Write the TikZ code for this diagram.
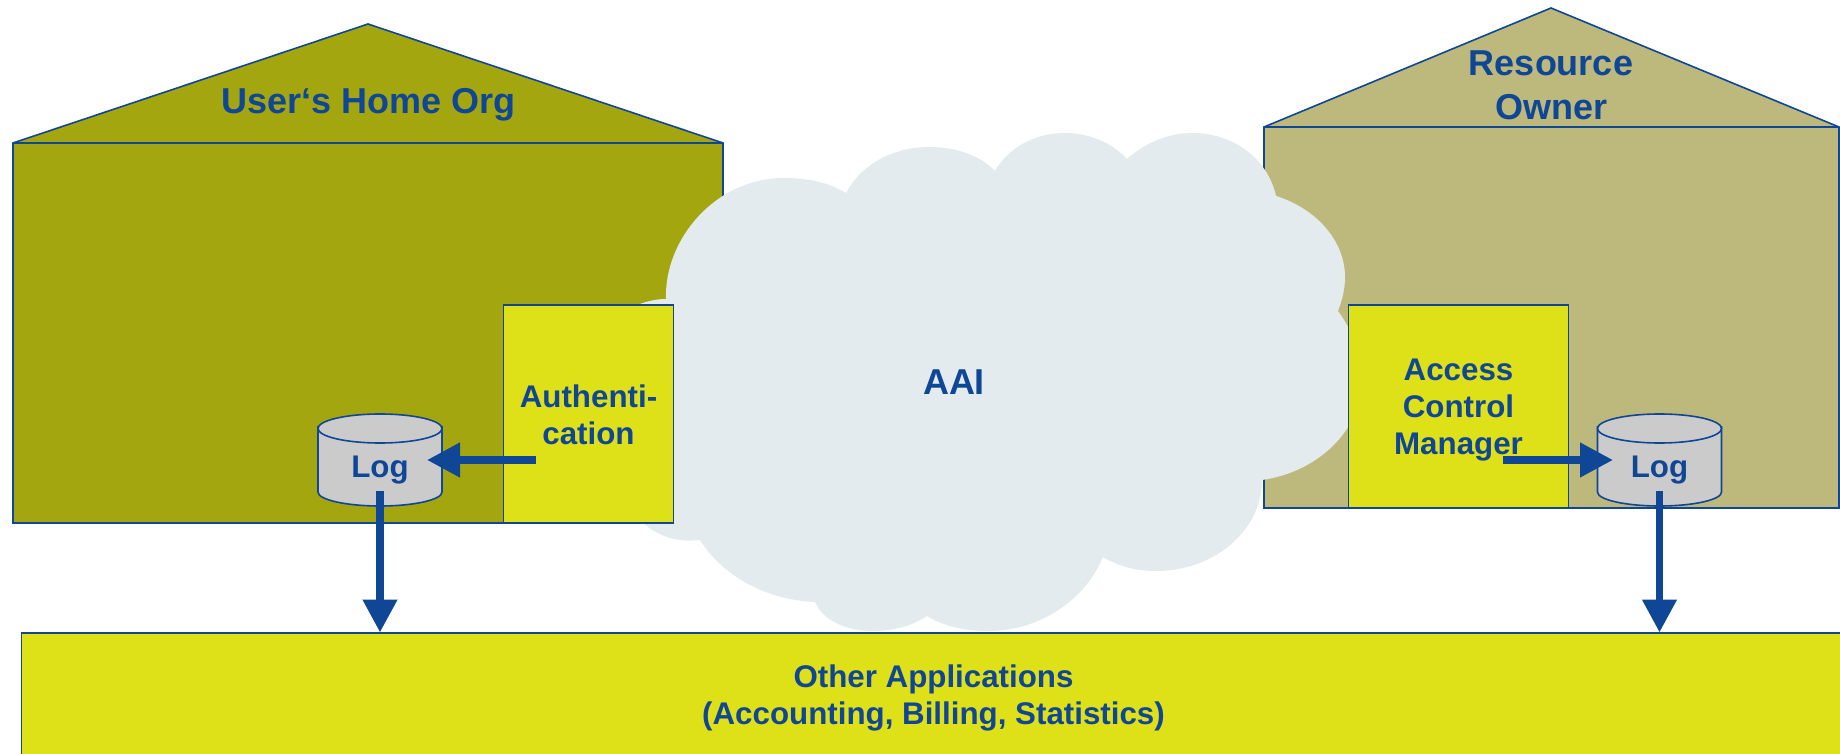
\documentclass[tikz,border=0pt]{standalone}
\usepackage{fontspec}
\setmainfont{Liberation Sans}
\usetikzlibrary{arrows.meta}
\definecolor{olivehouse}{HTML}{A4A610}
\definecolor{khakihouse}{HTML}{BDB87B}
\definecolor{boxyellow}{HTML}{DEE018}
\definecolor{cloudgrey}{HTML}{E3EBEF}
\definecolor{aaiblue}{HTML}{0F4696}
\definecolor{loggrey}{HTML}{CBCBCB}
\tikzset{
  x=1pt,y=-1pt,
  edge/.style={draw=aaiblue,line width=1.6pt,line join=miter},
  boxnode/.style={edge,fill=boxyellow,inner sep=0pt,anchor=north west},
  big/.style={text=aaiblue,font=\bfseries\fontsize{36}{44}\selectfont,align=center,inner sep=0pt},
  small/.style={text=aaiblue,font=\bfseries\fontsize{31.3}{37}\selectfont,align=center,inner sep=0pt},
  flow/.style={draw=aaiblue,line width=7.5pt,-{Triangle[length=33pt,width=33pt]}},
  logbody/.style={edge,fill=loggrey},
}
\newcommand{\logdrum}[1]{%
  \path[logbody] (#1-62,427) -- (#1-62,492) arc[start angle=180,end angle=360,x radius=62,y radius=-14] -- (#1+62,427) -- cycle;
  \path[logbody] (#1,428.5) ellipse[x radius=62,y radius=14.5];
}
\begin{document}
\begin{tikzpicture}
\clip (0,0) rectangle (1840,754);
\fill[white] (0,0) rectangle (1840,754);
% houses
\path[edge,fill=olivehouse] (13,143) -- (368,24) -- (723,143) -- (723,523) -- (13,523) -- cycle;
\draw[edge] (13,143) -- (723,143);
\path[edge,fill=khakihouse] (1264,127) -- (1551,8) -- (1839,127) -- (1839,508) -- (1264,508) -- cycle;
\draw[edge] (1264,127) -- (1839,127);
% cloud
\fill[cloudgrey] (846,193)
 .. controls (862,163) and (895,147) .. (929,147)
 .. controls (955,147) and (980,155) .. (995,171)
 .. controls (1008,148) and (1035,133) .. (1064,133)
 .. controls (1090,133) and (1112,143) .. (1127,159)
 .. controls (1145,143) and (1168,133) .. (1192,133)
 .. controls (1235,133) and (1268,160) .. (1276,196)
 .. controls (1315,208) and (1345,240) .. (1345,277)
 .. controls (1345,290) and (1342,300) .. (1338,311)
 .. controls (1355,335) and (1362,355) .. (1362,380)
 .. controls (1362,430) and (1318,472) .. (1262,480)
 .. controls (1262,530) and (1215,571) .. (1156,571)
 .. controls (1135,571) and (1118,566) .. (1103,557)
 .. controls (1085,600) and (1040,631) .. (988,631)
 .. controls (965,631) and (943,626) .. (927,616)
 .. controls (912,626) and (893,631) .. (873,631)
 .. controls (845,631) and (823,620) .. (815,602)
 .. controls (765,600) and (722,575) .. (700,540)
 .. controls (675,543) and (655,535) .. (640,520)
 -- (640,304)
 .. controls (648,301) and (657,299) .. (666,299)
 .. controls (664,240) and (715,178) .. (784,178)
 .. controls (808,178) and (830,183) .. (846,193) -- cycle;
% boxes
\node[boxnode,minimum width=170pt,minimum height=218pt] (auth) at (502.5,304.2) {};
\node[boxnode,minimum width=220pt,minimum height=203pt] (acm) at (1347.5,304.2) {};
\node[boxnode,minimum width=1840pt,minimum height=140pt] (other) at (20.5,632.2) {};
% logs
\logdrum{380}
\logdrum{1659.5}
% labels
\node[big] (home) at (368.5,105) {User‘s Home Org};
\node[big] (owner) at (1551,85.5) {Resource\\Owner};
\node[big] (aai) at (954,382.5) {AAI};
\node[small] (authtext) at (588.5,415) {Authenti-\\cation};
\node[small] (acmtext) at (1458.5,410) {Access\\Control\\Manager};
\node[small] (otext) at (933.5,698) {Other Applications\\(Accounting, Billing, Statistics)};
\node[small] (logl) at (380,470) {Log};
\node[small] (logr) at (1659.5,470) {Log};
% connectors
\coordinate (authout) at (536,460);
\coordinate (loglin) at (427,460);
\coordinate (acmout) at (1503,460);
\coordinate (logrin) at (1613,460);
\coordinate (logldown) at (380,491);
\coordinate (otherl) at (380,632.5);
\coordinate (logrdown) at (1659.5,491);
\coordinate (otherr) at (1659.5,632.5);
\draw[flow] (authout) -- (loglin);
\draw[flow] (acmout) -- (logrin);
\draw[flow] (logldown) -- (otherl);
\draw[flow] (logrdown) -- (otherr);
\end{tikzpicture}
\end{document}
